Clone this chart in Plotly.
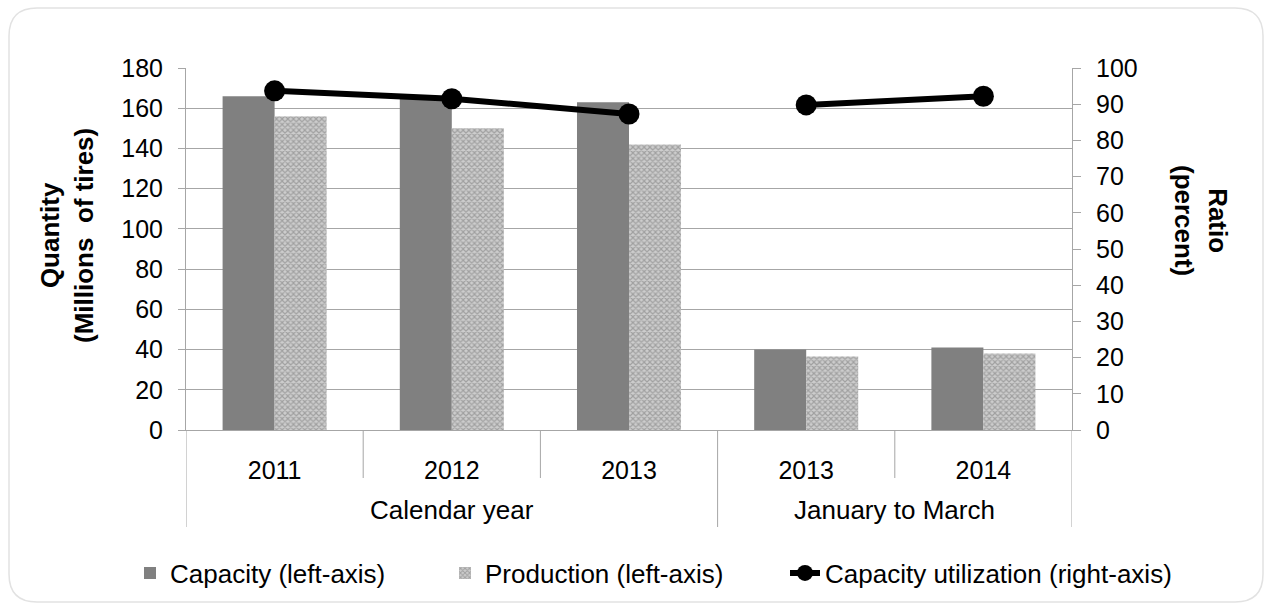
import plotly.graph_objects as go

groups = ["Calendar year", "Calendar year", "Calendar year", "January to March", "January to March"]
years = ["2011", "2012", "2013", "2013", "2014"]
capacity = [166, 165, 163, 40, 41]
production = [156, 150, 142, 36.5, 38]
utilization = [93.7, 91.5, 87.3, 89.8, 92.2]

W, H = 1272, 610
L, R, T, B = 186, 200, 68, 180
PW, PH = W - L - R, H - T - B

def px(x):
    return (x - L) / PW

def py(y):
    return (H - B - y) / PH

FAM = "Liberation Sans, Arial, sans-serif"
font_txt = dict(family=FAM, size=26, color="#000000")
font_num = dict(family=FAM, size=25, color="#000000")
GRID = "#a6a6a6"

idx = list(range(len(years)))

# group spans
spans = []
for i, g in enumerate(groups):
    if spans and spans[-1][0] == g:
        spans[-1][2] = i
    else:
        spans.append([g, i, i])

fig = go.Figure()
fig.add_trace(go.Bar(
    x=idx, y=capacity, name="Capacity (left-axis)", legend="legend",
    marker=dict(color="#808080", line=dict(width=0)),
))
fig.add_trace(go.Bar(
    x=idx, y=production, name="Production (left-axis)", legend="legend2",
    marker=dict(color="#b4b4b4", line=dict(width=0),
                pattern=dict(shape="x", size=4, solidity=0.5,
                             fgcolor="#737373", bgcolor="#cdcdcd")),
))
first = True
for g, a, b in spans:
    fig.add_trace(go.Scatter(
        x=idx[a:b + 1], y=utilization[a:b + 1], name="Capacity utilization (right-axis)",
        showlegend=first, legendgroup="util", legend="legend3",
        mode="lines+markers", yaxis="y2",
        line=dict(color="#000000", width=6), marker=dict(size=21, color="#000000"),
    ))
    first = False

# dividers and outer labels
shapes = []
annotations = []
inner_bounds = set(i + 0.5 for i in idx[:-1])
outer_bounds = set()
for g, a, b in spans:
    outer_bounds.add(a - 0.5)
    outer_bounds.add(b + 0.5)
    annotations.append(dict(text=g, x=(a + b) / 2, xref="x", y=py(510), yref="paper",
                            showarrow=False, font=font_txt, xanchor="center", yanchor="middle"))
for xb in sorted(outer_bounds):
    shapes.append(dict(type="line", xref="x", yref="paper", x0=xb, x1=xb, y0=0, y1=py(527),
                       line=dict(color=GRID, width=1)))
for xb in sorted(inner_bounds - outer_bounds):
    shapes.append(dict(type="line", xref="x", yref="paper", x0=xb, x1=xb, y0=0, y1=py(478),
                       line=dict(color=GRID, width=1)))

# rounded outer border
x0, y0, x1, y1, r = 9, 8, 1263, 602, 28
path = (f"M {px(x0+r)},{py(y0)} L {px(x1-r)},{py(y0)} Q {px(x1)},{py(y0)} {px(x1)},{py(y0+r)} "
        f"L {px(x1)},{py(y1-r)} Q {px(x1)},{py(y1)} {px(x1-r)},{py(y1)} "
        f"L {px(x0+r)},{py(y1)} Q {px(x0)},{py(y1)} {px(x0)},{py(y1-r)} "
        f"L {px(x0)},{py(y0+r)} Q {px(x0)},{py(y0)} {px(x0+r)},{py(y0)} Z")
shapes.append(dict(type="path", xref="paper", yref="paper", path=path,
                   line=dict(color="#e2e2e2", width=1.5), layer="below"))

annotations += [
    dict(text="<b>Quantity<br>(Millions  of tires)</b>", textangle=-90, xref="paper", yref="paper",
         x=px(67), y=py(236), showarrow=False, font=font_txt, xanchor="center", yanchor="middle"),
    dict(text="<b>Ratio<br>(percent)</b>", textangle=90, xref="paper", yref="paper",
         x=px(1201), y=py(220), showarrow=False, font=font_txt, xanchor="center", yanchor="middle"),
]

def leg(xpix):
    return dict(orientation="h", xref="container", yref="container",
                x=xpix / W, xanchor="left", y=1 - 573 / H, yanchor="middle",
                bgcolor="rgba(0,0,0,0)", font=font_txt, itemwidth=30)

fig.update_layout(
    width=W, height=H,
    margin=dict(l=L, r=R, t=T, b=B, autoexpand=False),
    paper_bgcolor="#ffffff", plot_bgcolor="#ffffff",
    font=font_txt,
    barmode="group", bargap=0.413, bargroupgap=0,
    showlegend=True,
    legend=leg(130), legend2=leg(445), legend3=leg(785),
    xaxis=dict(range=[-0.5, len(years) - 0.5], tickmode="array", tickvals=idx, ticktext=years,
               showline=True, linecolor=GRID, linewidth=1, ticks="",
               ticklabelstandoff=18, tickfont=font_num, showgrid=False, zeroline=False),
    yaxis=dict(range=[0, 180], dtick=20, showline=True, linecolor=GRID,
               ticks="outside", ticklen=7, tickcolor=GRID, ticklabelstandoff=10,
               gridcolor=GRID, gridwidth=1, zeroline=False, tickfont=font_num),
    yaxis2=dict(range=[0, 100], dtick=10, overlaying="y", side="right", showline=True,
                linecolor=GRID, ticks="outside", ticklen=8, tickcolor=GRID, ticklabelstandoff=10,
                showgrid=False, zeroline=False, tickfont=font_num),
    shapes=shapes,
    annotations=annotations,
)

fig.write_html("out.html")
